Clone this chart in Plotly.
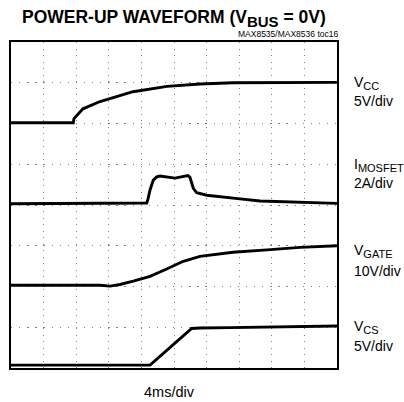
import plotly.graph_objects as go

# time in ms (4 ms/div), amplitude in screen divisions (0..8)
vcc_t = [0, 7.64, 7.73, 8.10, 8.83, 10.92, 14.23, 14.97, 19.14, 23.19, 27.24, 31.78, 40]
vcc_y = [6.02, 6.02, 6.12, 6.2, 6.36, 6.54, 6.74, 6.78, 6.91, 6.97, 7.0, 7.0, 7.01]

imos_t = [0, 16.65, 16.81, 17.06, 17.46, 17.88, 18.28, 20.12, 21.72, 21.96, 22.37, 22.79, 24.01, 25.64, 28.1, 30.55, 35.46, 40]
imos_y = [4.03, 4.05, 4.15, 4.37, 4.61, 4.69, 4.71, 4.66, 4.72, 4.68, 4.41, 4.3, 4.24, 4.2, 4.15, 4.1, 4.07, 4.04]

vgate_t = [0, 10.92, 12.15, 13.37, 15.0, 17.06, 19.1, 21.14, 23.19, 25.24, 27.24, 31.41, 35.46, 40]
vgate_y = [2.03, 2.03, 2.01, 2.05, 2.13, 2.25, 2.43, 2.62, 2.74, 2.80, 2.84, 2.9, 2.96, 3.0]

vcs_t = [0, 17.06, 22.17, 23.19, 26.85, 31.78, 40]
vcs_y = [0.07, 0.07, 0.97, 0.98, 0.99, 1.0, 1.03]

label_main = ["V", "I", "V", "V"]
label_sub = ["CC", "MOSFET", "GATE", "CS"]
scales = ["5V/div", "2A/div", "10V/div", "5V/div"]
label_y = [7.0, 4.98, 2.86, 1.0]
scale_y = [6.56, 4.54, 2.39, 0.54]

FONT = "Liberation Sans, Arial, sans-serif"

fig = go.Figure()
for t, y in [(vcc_t, vcc_y), (imos_t, imos_y), (vgate_t, vgate_y), (vcs_t, vcs_y)]:
    fig.add_trace(go.Scatter(x=t, y=y, mode="lines",
                             line=dict(color="black", width=2.9),
                             showlegend=False, hoverinfo="skip"))

fig.update_xaxes(range=[0, 40], dtick=4, showgrid=True, gridcolor="#808080",
                 gridwidth=1.3, griddash="1.3px,5.2px", zeroline=False,
                 showticklabels=False, ticks="", showline=True, mirror=True,
                 linecolor="black", linewidth=2.2, fixedrange=True)
fig.update_yaxes(range=[0, 8], dtick=1, showgrid=True, gridcolor="#808080",
                 gridwidth=1.3, griddash="1.3px,6.8px", zeroline=False,
                 showticklabels=False, ticks="", showline=True, mirror=True,
                 linecolor="black", linewidth=2.2, fixedrange=True)

ann = []
for m, s, ly, sc, sy in zip(label_main, label_sub, label_y, scales, scale_y):
    txt = m + '<sub><span style="font-size:11px">' + s + '</span></sub>'
    ann.append(dict(text=txt, xref="paper", yref="y", x=1.046, y=ly,
                    xanchor="left", yanchor="middle", showarrow=False,
                    font=dict(family=FONT, size=14, color="black")))
    ann.append(dict(text=sc, xref="paper", yref="y", x=1.046, y=sy,
                    xanchor="left", yanchor="middle", showarrow=False,
                    font=dict(family=FONT, size=14, color="black")))

ann.append(dict(text='<b>POWER-UP WAVEFORM (V<sub><span style="font-size:15px">BUS</span></sub> = 0V)</b>',
                xref="paper", yref="paper", x=0.5, y=1.073,
                xanchor="center", yanchor="middle", showarrow=False,
                font=dict(family=FONT, size=17.5, color="black")))
ann.append(dict(text="MAX8535/MAX8536 toc16", xref="paper", yref="paper",
                x=1.009, y=1.026, xanchor="right", yanchor="middle",
                showarrow=False, font=dict(family=FONT, size=8.5, color="black")))
ann.append(dict(text="4ms/div", xref="paper", yref="paper", x=0.485, y=-0.074,
                xanchor="center", yanchor="middle", showarrow=False,
                font=dict(family=FONT, size=14.5, color="black")))

fig.update_layout(width=404, height=402,
                  margin=dict(l=11, r=67, t=42, b=34, pad=0),
                  paper_bgcolor="white", plot_bgcolor="white",
                  annotations=ann)

fig.write_html("out.html", config={"displayModeBar": False})

# remove the browser's default page margin so the figure sits at (0, 0)
with open("out.html", encoding="utf-8") as f:
    html = f.read()
html = html.replace("<head>", "<head><style>html,body{margin:0;padding:0;overflow:hidden}</style>", 1)
with open("out.html", "w", encoding="utf-8") as f:
    f.write(html)
